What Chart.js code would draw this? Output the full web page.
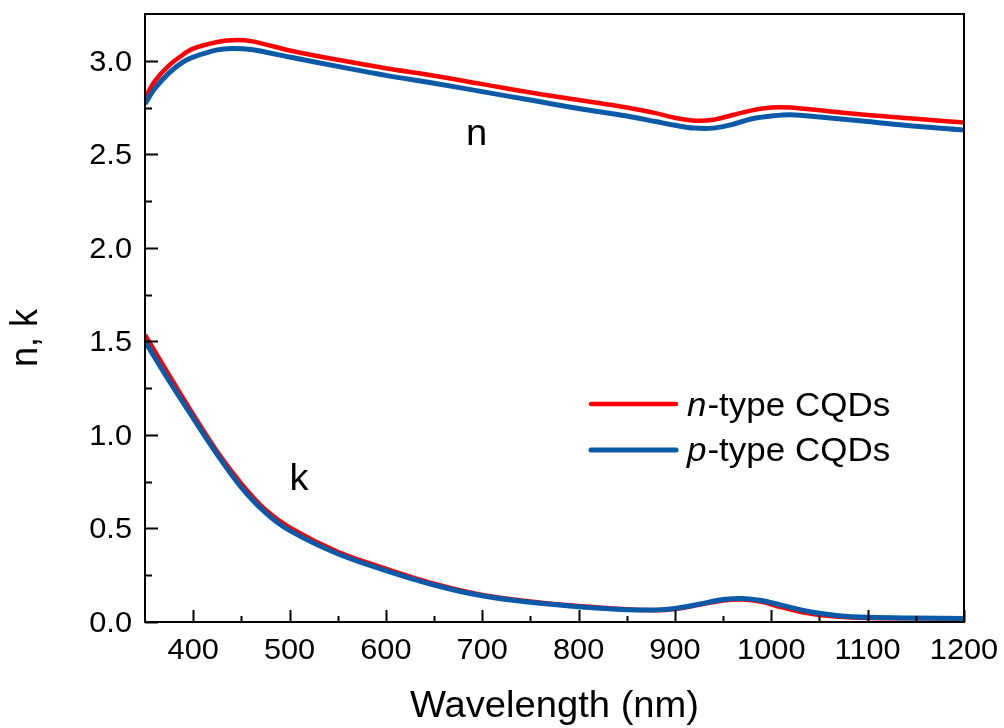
<!DOCTYPE html>
<html>
<head>
<meta charset="utf-8">
<title>n, k of CQD films</title>
<script src="https://cdn.jsdelivr.net/npm/chart.js@4.4.0/dist/chart.umd.min.js"></script>
<style>
    html, body { margin: 0; padding: 0; background: #ffffff; }
    #wrap { width: 1004px; height: 728px; }
</style>
</head>
<body>
<div id="wrap"><canvas id="nkChart" width="1004" height="728"></canvas></div>
<script>
// refractive index n (upper pair of curves)
const nWavelength = [350, 360, 375, 390, 400, 425, 440, 460, 500, 550, 600, 650, 700, 750, 800, 850, 880, 900, 920, 940, 960, 980, 1000, 1020, 1050, 1100, 1150, 1200];
const nNType = [2.80, 2.89, 2.975, 3.035, 3.065, 3.10, 3.11, 3.105, 3.055, 3.005, 2.96, 2.92, 2.875, 2.83, 2.79, 2.75, 2.72, 2.695, 2.68, 2.685, 2.71, 2.735, 2.75, 2.75, 2.735, 2.71, 2.69, 2.67];
const nPType = [2.77, 2.85, 2.935, 2.995, 3.02, 3.058, 3.066, 3.06, 3.02, 2.97, 2.922, 2.88, 2.835, 2.79, 2.745, 2.705, 2.675, 2.655, 2.64, 2.64, 2.66, 2.69, 2.705, 2.712, 2.70, 2.675, 2.65, 2.63];

// extinction coefficient k (lower pair of curves)
const kWavelength = [350, 375, 400, 425, 450, 475, 500, 550, 600, 650, 700, 750, 800, 850, 880, 900, 925, 950, 970, 990, 1010, 1040, 1070, 1100, 1150, 1200];
const kNType = [1.535, 1.32, 1.11, 0.91, 0.74, 0.60, 0.505, 0.375, 0.285, 0.205, 0.145, 0.11, 0.085, 0.068, 0.063, 0.07, 0.092, 0.115, 0.12, 0.108, 0.08, 0.045, 0.028, 0.022, 0.02, 0.018];
const kPType = [1.50, 1.29, 1.09, 0.895, 0.72, 0.585, 0.49, 0.365, 0.275, 0.198, 0.14, 0.105, 0.082, 0.066, 0.064, 0.072, 0.095, 0.12, 0.126, 0.115, 0.09, 0.055, 0.034, 0.025, 0.021, 0.019];

const xTicks = [400, 500, 600, 700, 800, 900, 1000, 1100, 1200];
const xMinorTicks = [450, 550, 650, 750, 850, 950, 1050, 1150];
const yTicks = [0, 0.5, 1.0, 1.5, 2.0, 2.5, 3.0];
const yMinorTicks = [0.25, 0.75, 1.25, 1.75, 2.25, 2.75];

const RED = "#ff0000";
const BLUE = "#0b5aa8";
const FONT = "'Liberation Sans', Arial, sans-serif";
const STRETCH = 1.06; // lettering runs slightly wider than plain Arial

function toPoints(xs, ys) {
    return xs.map((x, i) => ({ x: x, y: ys[i] }));
}

// draw text widened horizontally around its anchor point
function drawText(ctx, text, x, y, font, align) {
    ctx.save();
    ctx.font = font;
    ctx.fillStyle = "#000";
    ctx.textBaseline = "alphabetic";
    ctx.textAlign = align || "left";
    ctx.translate(x, y);
    ctx.scale(STRETCH, 1);
    ctx.fillText(text, 0, 0);
    ctx.restore();
}

// axes box, inward ticks, labels, titles and legend
const framePlugin = {
    id: "frame",
    afterDraw(chart) {
        const ctx = chart.ctx;
        const area = chart.chartArea;
        const xs = chart.scales.x;
        const ys = chart.scales.y;

        ctx.save();
        ctx.strokeStyle = "#000";
        ctx.lineWidth = 2;
        ctx.strokeRect(area.left, area.top, area.right - area.left, area.bottom - area.top);

        // ticks along bottom axis
        ctx.beginPath();
        xTicks.forEach((v) => {
            const px = Math.round(xs.getPixelForValue(v)) + 0.5;
            ctx.moveTo(px, area.bottom);
            ctx.lineTo(px, area.bottom - 12);
        });
        xMinorTicks.forEach((v) => {
            const px = Math.round(xs.getPixelForValue(v)) + 0.5;
            ctx.moveTo(px, area.bottom);
            ctx.lineTo(px, area.bottom - 6);
        });
        // ticks along left axis
        yTicks.forEach((v) => {
            const py = Math.round(ys.getPixelForValue(v)) + 0.5;
            ctx.moveTo(area.left, py);
            ctx.lineTo(area.left + 13, py);
        });
        yMinorTicks.forEach((v) => {
            const py = Math.round(ys.getPixelForValue(v)) + 0.5;
            ctx.moveTo(area.left, py);
            ctx.lineTo(area.left + 7, py);
        });
        ctx.lineWidth = 2;
        ctx.stroke();
        ctx.restore();

        const tickFont = "29px " + FONT;
        xTicks.forEach((v) => {
            drawText(ctx, String(v), xs.getPixelForValue(v), 659, tickFont, "center");
        });
        yTicks.forEach((v) => {
            drawText(ctx, v.toFixed(1), area.left - 13, ys.getPixelForValue(v) + 10, tickFont, "right");
        });

        // axis titles
        drawText(ctx, "Wavelength (nm)", (area.left + area.right) / 2, 717, "36px " + FONT, "center");
        ctx.save();
        ctx.translate(37, 338);
        ctx.scale(STRETCH, 1);
        ctx.rotate(-Math.PI / 2);
        ctx.font = "36px " + FONT;
        ctx.fillStyle = "#000";
        ctx.textAlign = "center";
        ctx.textBaseline = "alphabetic";
        ctx.fillText("n, k", 0, 0);
        ctx.restore();

        // curve labels
        drawText(ctx, "n", 476.5, 145, "36px " + FONT, "center");
        drawText(ctx, "k", 299, 490, "36px " + FONT, "center");

        // legend
        const legendRows = [
            { italic: "n", rest: "-type CQDs", color: RED, width: 4.5, lineY: 404, textY: 416 },
            { italic: "p", rest: "-type CQDs", color: BLUE, width: 5, lineY: 450, textY: 461 }
        ];
        legendRows.forEach((row) => {
            ctx.save();
            ctx.strokeStyle = row.color;
            ctx.lineWidth = row.width;
            ctx.lineCap = "round";
            ctx.beginPath();
            ctx.moveTo(591, row.lineY);
            ctx.lineTo(676, row.lineY);
            ctx.stroke();
            ctx.restore();

            const italicFont = "italic 33px " + FONT;
            const plainFont = "33px " + FONT;
            ctx.save();
            ctx.font = italicFont;
            const w = ctx.measureText(row.italic).width * STRETCH;
            ctx.restore();
            drawText(ctx, row.italic, 687, row.textY, italicFont, "left");
            drawText(ctx, row.rest, 687 + w + 1, row.textY, plainFont, "left");
        });
    }
};

const lineStyle = (color, width) => ({
    borderColor: color,
    backgroundColor: color,
    borderWidth: width,
    pointRadius: 0,
    fill: false,
    tension: 0.35
});

const ctx = document.getElementById("nkChart").getContext("2d");
const nkChart = new Chart(ctx, {
    type: "line",
    data: {
        datasets: [
            // first datasets are painted last, so blue sits over red
            { label: "p-type CQDs", data: toPoints(nWavelength, nPType), ...lineStyle(BLUE, 5) },
            { label: "p-type CQDs k", data: toPoints(kWavelength, kPType), ...lineStyle(BLUE, 5) },
            { label: "n-type CQDs", data: toPoints(nWavelength, nNType), ...lineStyle(RED, 4.5) },
            { label: "n-type CQDs k", data: toPoints(kWavelength, kNType), ...lineStyle(RED, 4.5) }
        ]
    },
    options: {
        responsive: false,
        animation: false,
        layout: { padding: { left: 0, top: 14, right: 40, bottom: 0 } },
        plugins: {
            legend: { display: false },
            tooltip: { enabled: false }
        },
        scales: {
            x: {
                type: "linear",
                min: 350,
                max: 1200,
                grid: { display: false, drawTicks: false },
                border: { display: false },
                ticks: { display: false },
                afterBuildTicks: (scale) => { scale.ticks = xTicks.map((v) => ({ value: v })); },
                afterFit: (scale) => { scale.height = 106; }
            },
            y: {
                type: "linear",
                min: 0,
                max: 3.25,
                grid: { display: false, drawTicks: false },
                border: { display: false },
                ticks: { display: false },
                afterBuildTicks: (scale) => { scale.ticks = yTicks.map((v) => ({ value: v })); },
                afterFit: (scale) => { scale.width = 145; }
            }
        }
    },
    plugins: [framePlugin]
});
</script>
</body>
</html>
